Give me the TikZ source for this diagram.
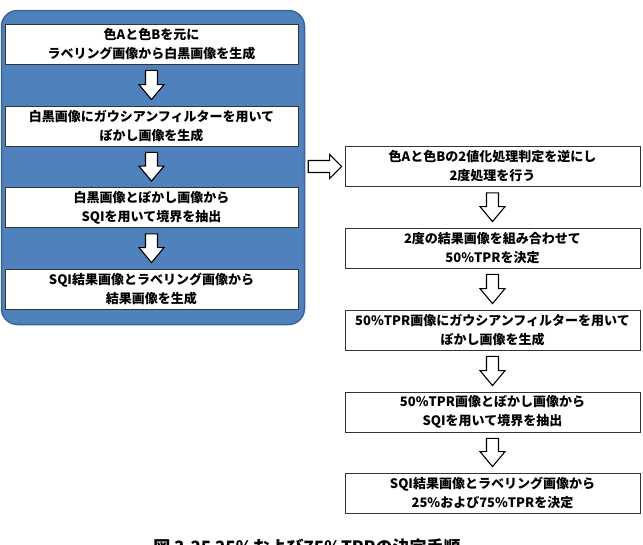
\documentclass[tikz,border=0pt]{standalone}
\usepackage{fontspec}
\setmainfont{Noto Sans CJK JP}
\usetikzlibrary{calc}
\definecolor{panelblue}{HTML}{4F81BD}
\definecolor{paneledge}{HTML}{3A659A}
\tikzset{
  stepbox/.style={draw=black!80, fill=white, line width=0.8pt, minimum height=40pt,
    align=center, inner sep=2pt, font=\fontsize{13}{19}\selectfont\bfseries},
  leftbox/.style={stepbox, minimum width=293pt},
  rightbox/.style={stepbox, minimum width=295pt},
  blockarrow/.style={draw=black, line width=1.1pt, fill=white, line join=miter},
}
\newcommand\downblk[2]{%
  \draw[blockarrow] let \p1=($(#1.south)+(0,6)$), \p2=($(#2.north)+(0,-6)$) in
    (\x1-6pt,\y1) -- (\x1+6pt,\y1) -- (\x1+6pt,\y2+15pt) -- (\x1+12.5pt,\y2+15pt)
    -- (\x1,\y2) -- (\x1-12.5pt,\y2+15pt) -- (\x1-6pt,\y2+15pt) -- cycle;}
\begin{document}
\begin{tikzpicture}[x=1pt,y=-1pt]
\clip (0,0) rectangle (643,544);
\fill[white] (0,0) rectangle (643,544);
% blue panel
\node (panel) [draw=paneledge, fill=panelblue, line width=1.5pt, rounded corners=16pt,
  minimum width=303pt, minimum height=314pt, inner sep=0pt] at (153,167.5) {};
% left column
\node (l1) [leftbox] at (151.5,44) {色Aと色Bを元に\\ラベリング画像から白黒画像を生成};
\node (l2) [leftbox] at (151.5,126) {白黒画像にガウシアンフィルターを用いて\\ぼかし画像を生成};
\node (l3) [leftbox] at (151.5,207.5) {白黒画像とぼかし画像から\\SQIを用いて境界を抽出};
\node (l4) [leftbox] at (151.5,289) {SQI結果画像とラベリング画像から\\結果画像を生成};
% right column
\node (r1) [rightbox] at (492.5,166.5) {色Aと色Bの2値化処理判定を逆にし\\2度処理を行う};
\node (r2) [rightbox] at (492.5,248) {2度の結果画像を組み合わせて\\50\%TPRを決定};
\node (r3) [rightbox] at (492.5,330) {50\%TPR画像にガウシアンフィルターを用いて\\ぼかし画像を生成};
\node (r4) [rightbox] at (492.5,412) {50\%TPR画像とぼかし画像から\\SQIを用いて境界を抽出};
\node (r5) [rightbox] at (492.5,493) {SQI結果画像とラベリング画像から\\25\%および75\%TPRを決定};
% down arrows
\downblk{l1}{l2}
\downblk{l2}{l3}
\downblk{l3}{l4}
\downblk{r1}{r2}
\downblk{r2}{r3}
\downblk{r3}{r4}
\downblk{r4}{r5}
% right arrow from panel to r1
\draw[blockarrow] let \p1=($(panel.east)+(3,0)$), \p2=($(r1.west)+(-3,0)$), \p3=(r1.west) in
  (\x1,\y3+6pt) -- (\x2-12pt,\y3+6pt) -- (\x2-12pt,\y3+12pt) -- (\x2,\y3)
  -- (\x2-12pt,\y3-12pt) -- (\x2-12pt,\y3-6pt) -- (\x1,\y3-6pt) -- cycle;
% caption (cut off at the bottom edge, as in the reference)
\node (cap) [font=\fontsize{17}{17}\selectfont\bfseries, anchor=north] at (307,535) {図 3.25\ 25\%および75\%TPRの決定手順};
\end{tikzpicture}
\end{document}
